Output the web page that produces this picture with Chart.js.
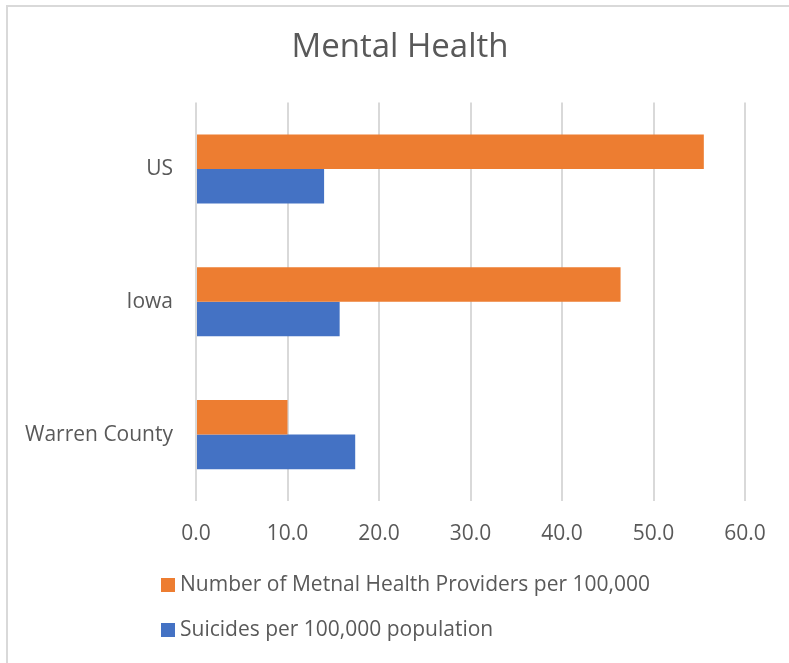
<!DOCTYPE html>
<html>
<head>
<meta charset="utf-8">
<script src="https://cdn.jsdelivr.net/npm/chart.js@4"></script>
<style>
  html, body { margin: 0; padding: 0; background: #fff; }
  body { width: 789px; height: 663px; position: relative; overflow: hidden; font-family: "Open Sans", sans-serif; }
  .frame { position: absolute; left: 6px; top: 5px; width: 900px; height: 800px; border-left: 2px solid #d9d9d9; border-top: 2px solid #d9d9d9; }
  #chart-wrap { position: absolute; left: 0; top: 0; width: 789px; height: 663px; }
  .legend { position: absolute; left: 161px; color: #595959; font-size: 21px; line-height: 1; }
  .legend .item { position: absolute; left: 0; white-space: nowrap; }
  .legend .box { position: absolute; left: 0; top: 0; width: 14px; height: 14px; }
  .legend .label { position: absolute; left: 19px; top: -5px; }
</style>
</head>
<body>
<div class="frame"></div>
<div id="chart-wrap"><canvas id="mhChart" width="789" height="663"></canvas></div>
<div class="legend" id="legend"></div>

<script>
const categories = ['US', 'Iowa', 'Warren County'];
const providers = [55.5, 46.4, 10.0];
const suicides = [14.0, 15.7, 17.4];
const tickValues = [0, 10, 20, 30, 40, 50, 60];

const datasets = [
    { label: 'Number of Metnal Health Providers per 100,000', data: providers, backgroundColor: '#ED7D31' },
    { label: 'Suicides per 100,000 population', data: suicides, backgroundColor: '#4472C4' }
];

const ctx = document.getElementById('mhChart').getContext('2d');
new Chart(ctx, {
    type: 'bar',
    data: {
        labels: categories,
        datasets: datasets.map(d => ({
            label: d.label,
            data: d.data,
            backgroundColor: d.backgroundColor,
            borderWidth: 0,
            categoryPercentage: 0.52,
            barPercentage: 1
        }))
    },
    options: {
        indexAxis: 'y',
        responsive: false,
        animation: false,
        layout: { padding: { left: 11, right: 0, top: 5, bottom: 120 } },
        plugins: {
            legend: { display: false },
            tooltip: { enabled: false },
            title: {
                display: true,
                text: 'Mental Health',
                color: '#595959',
                font: { family: 'Open Sans', size: 33, weight: 'normal' },
                padding: { top: 23, bottom: 35 }
            }
        },
        scales: {
            x: {
                min: 0,
                max: 60,
                afterBuildTicks: (scale) => { scale.ticks = tickValues.map(v => ({ value: v })); },
                afterFit: (scale) => { scale.height = 42; },
                grid: { color: '#d9d9d9', lineWidth: 2, drawTicks: false },
                border: { display: false },
                ticks: {
                    padding: 20,
                    color: '#595959',
                    font: { family: 'Open Sans', size: 21 },
                    callback: (v) => Number(v).toFixed(1)
                }
            },
            y: {
                afterFit: (scale) => { scale.width = 185; },
                grid: { display: false, drawTicks: false },
                border: { display: false },
                ticks: {
                    padding: 23,
                    color: '#595959',
                    font: { family: 'Open Sans', size: 21 }
                }
            },
            // empty right-hand axis, only keeps space on the right
            yRight: {
                position: 'right',
                afterFit: (scale) => { scale.width = 44; },
                grid: { display: false, drawTicks: false },
                border: { display: false },
                ticks: { display: false }
            }
        }
    }
});

// legend as two stacked rows, like the original
const legendEl = document.getElementById('legend');
const rowTops = [578, 623];
datasets.forEach((d, i) => {
    const item = document.createElement('div');
    item.className = 'item';
    item.style.top = rowTops[i] + 'px';
    item.innerHTML = '<span class="box" style="background:' + d.backgroundColor + '"></span><span class="label">' + d.label + '</span>';
    legendEl.appendChild(item);
});
</script>
</body>
</html>
